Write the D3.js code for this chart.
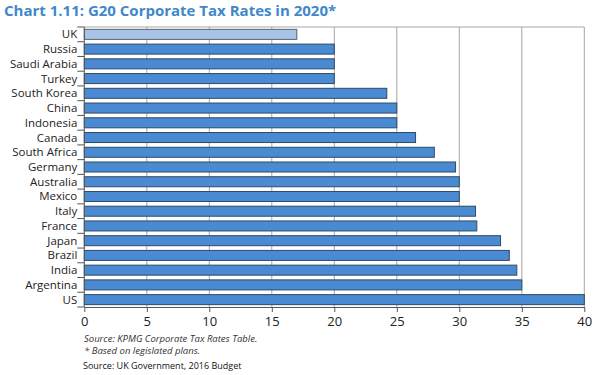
<!DOCTYPE html>
<html>
<head>
<meta charset="utf-8">
<script src="https://cdn.jsdelivr.net/npm/d3@7"></script>
<style>
  body { margin: 0; background: #fff; }
  svg { display: block; }
</style>
</head>
<body>
<svg id="svg1" width="595" height="375"></svg>
<script>
// G20 corporate tax rates, 2020

var countries = ["UK", "Russia", "Saudi Arabia", "Turkey", "South Korea", "China",
                 "Indonesia", "Canada", "South Africa", "Germany", "Australia", "Mexico",
                 "Italy", "France", "Japan", "Brazil", "India", "Argentina", "US"];
var rates = [17, 20, 20, 20, 24.2, 25, 25, 26.5, 28, 29.7, 30, 30,
             31.3, 31.4, 33.3, 34, 34.6, 35, 40];
var xTicks = [0, 5, 10, 15, 20, 25, 30, 35, 40];
var notes = ["Source: KPMG Corporate Tax Rates Table.", "* Based on legislated plans."];

var pLeft = 84.3, pRight = 584.3, pTop = 27, pBottom = 307;

var svg = d3.select("#svg1");

var x = d3.scaleLinear().domain([0, 40]).range([pLeft, pRight]);
var y = d3.scaleBand().domain(countries).range([pTop, pBottom]).paddingInner(0.32).paddingOuter(0.16);

// title
svg.append("text")
    .attr("x", 4).attr("y", 16)
    .attr("font-family", "Open Sans")
    .attr("font-weight", "bold")
    .attr("font-size", 15)
    .attr("fill", "#4088cb")
    .text("Chart 1.11: G20 Corporate Tax Rates in 2020*");

// gridlines
svg.append("g").selectAll("line")
    .data(xTicks.slice(1))
    .enter().append("line")
    .attr("x1", function(d){ return x(d); })
    .attr("x2", function(d){ return x(d); })
    .attr("y1", pTop).attr("y2", pBottom)
    .attr("stroke", "#a6a6a6").attr("stroke-width", 1);

svg.append("line")
    .attr("x1", pLeft).attr("x2", pRight)
    .attr("y1", pTop).attr("y2", pTop)
    .attr("stroke", "#a6a6a6");

// bars
svg.append("g").selectAll("rect")
    .data(countries)
    .enter().append("rect")
    .attr("x", pLeft)
    .attr("y", function(d){ return y(d); })
    .attr("width", function(d, i){ return x(rates[i]) - pLeft; })
    .attr("height", y.bandwidth())
    .attr("fill", function(d){ return d == "UK" ? "#a8c3e8" : "#4a8ad3"; })
    .attr("stroke", function(d){ return d == "UK" ? "#5a6470" : "#2e4a66"; })
    .attr("stroke-width", 1);

// y axis: ticks at band boundaries
var yAxis = svg.append("g");
yAxis.append("line")
    .attr("x1", pLeft).attr("x2", pLeft)
    .attr("y1", pTop).attr("y2", pBottom)
    .attr("stroke", "#555");
var bandH = (pBottom - pTop) / countries.length;
yAxis.selectAll("line.tk")
    .data(d3.range(countries.length + 1))
    .enter().append("line")
    .attr("class", "tk")
    .attr("x1", pLeft - 7).attr("x2", pLeft)
    .attr("y1", function(i){ return pTop + i * bandH; })
    .attr("y2", function(i){ return pTop + i * bandH; })
    .attr("stroke", "#555");
yAxis.selectAll("text")
    .data(countries)
    .enter().append("text")
    .attr("x", pLeft - 7)
    .attr("y", function(d){ return y(d) + y.bandwidth() / 2; })
    .attr("dy", "0.35em")
    .attr("text-anchor", "end")
    .attr("font-family", "Open Sans")
    .attr("font-size", 11.5)
    .attr("fill", "#222")
    .text(function(d){ return d; });

// x axis
var xAxis = svg.append("g")
    .attr("transform", "translate(0," + pBottom + ")")
    .call(d3.axisBottom(x).tickValues(xTicks).tickSize(5).tickSizeOuter(0));
xAxis.select(".domain").attr("stroke", "#555");
xAxis.selectAll(".tick line").attr("stroke", "#555");
xAxis.selectAll("text")
    .attr("font-family", "Open Sans")
    .attr("font-size", 13)
    .attr("fill", "#222")
    .attr("dy", "0.85em");

// notes
svg.append("g").selectAll("text")
    .data(notes)
    .enter().append("text")
    .attr("x", 84)
    .attr("y", function(d, i){ return 342 + i * 12; })
    .attr("font-family", "Open Sans")
    .attr("font-style", "italic")
    .attr("font-size", 9.5)
    .attr("fill", "#333")
    .text(function(d){ return d; });

svg.append("text")
    .attr("x", 83).attr("y", 369)
    .attr("font-family", "Open Sans")
    .attr("font-size", 9)
    .attr("fill", "#111")
    .text("Source: UK Government, 2016 Budget");
</script>
</body>
</html>
